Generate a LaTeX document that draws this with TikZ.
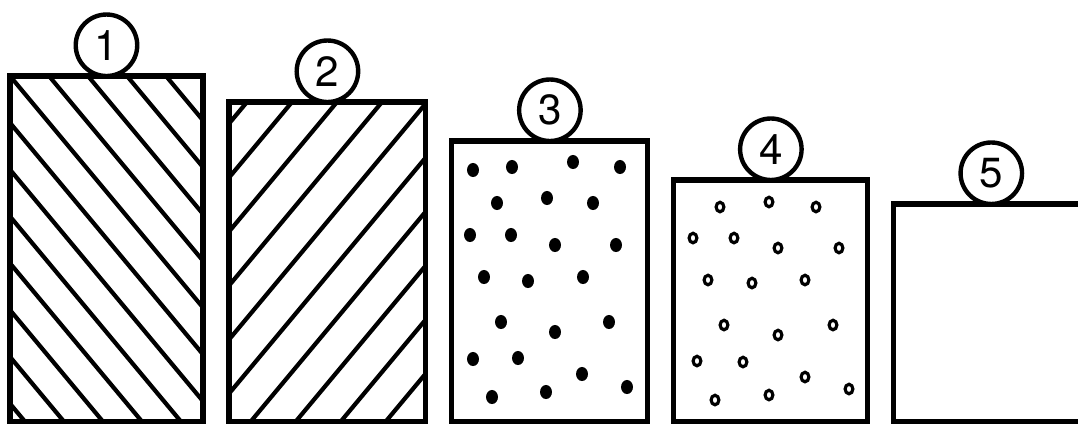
\documentclass[tikz,border=0pt]{standalone}
\usepackage{fontspec}
\setsansfont{TeX Gyre Heros}
\usetikzlibrary{positioning}
\tikzset{
  box/.style={draw,line width=2.9pt,inner sep=0pt,outer sep=0pt},
  num/.style={draw,circle,line width=2.5pt,fill=white,minimum size=1.23cm,inner sep=0pt,outer sep=0pt,font=\sffamily\fontsize{24}{24}\selectfont},
  hatch/.style={line width=2.4pt},
  dot/.style={fill=black},
  ring/.style={draw=black,line width=1.8pt},
}

\begin{document}
\begin{tikzpicture}[x=0.02cm,y=-0.02cm,node distance=5.2mm]
  \clip (0,0) rectangle (1078,427);
  % five samples, bottoms aligned
  \node[box,minimum width=3.86cm,minimum height=6.92cm,anchor=north west] (b1) at (10,76) {};
  \node[box,minimum width=3.94cm,minimum height=6.4cm,right=of b1.south east,anchor=south west] (b2) {};
  \node[box,minimum width=3.92cm,minimum height=5.62cm,right=of b2.south east,anchor=south west] (b3) {};
  \node[box,minimum width=3.88cm,minimum height=4.84cm,right=of b3.south east,anchor=south west] (b4) {};
  \node[box,minimum width=3.9cm,minimum height=4.36cm,right=of b4.south east,anchor=south west] (b5) {};
  % hatching
  \begin{scope}
    \clip (b1.south west) rectangle (b1.north east);
    \foreach \k in {-9,...,5}
      \draw[hatch] ({10+39*\k},76) -- ++(300,360);
  \end{scope}
  \begin{scope}
    \clip (b2.south west) rectangle (b2.north east);
    \foreach \k in {-7,...,5}
      \draw[hatch] ({427-45*\k},102) -- ++(-300,360);
  \end{scope}
  % filled dots
  \foreach \px/\py in {473/170,512/167,573/162,620/167,497/203,547/198,593/203,
      470/235,511/235,555/245,616/245,484/277,528/281,583/277,501/322,555/332,
      609/322,473/359,518/358,582/374,492/397,546/392,627/387}
    \fill[dot] (\px,\py) ellipse [x radius=3.4pt,y radius=4pt];
  % open rings
  \foreach \px/\py in {720/207,769/202,816/207,693/238,734/238,778/248,839/248,
      708/280,752/283,805/280,724/325,778/335,833/325,697/361,743/362,805/377,
      849/389,715/400,769/395}
    \draw[ring] (\px,\py) ellipse [x radius=2.2pt,y radius=2.7pt];
  % labels
  \node[num,above=0pt of b1] (c1) {1};
  \node[num,above=0pt of b2] (c2) {2};
  \node[num,above=0pt of b3] (c3) {3};
  \node[num,above=0pt of b4] (c4) {4};
  \node[num,above=0pt of b5] (c5) {5};
\end{tikzpicture}
\end{document}
